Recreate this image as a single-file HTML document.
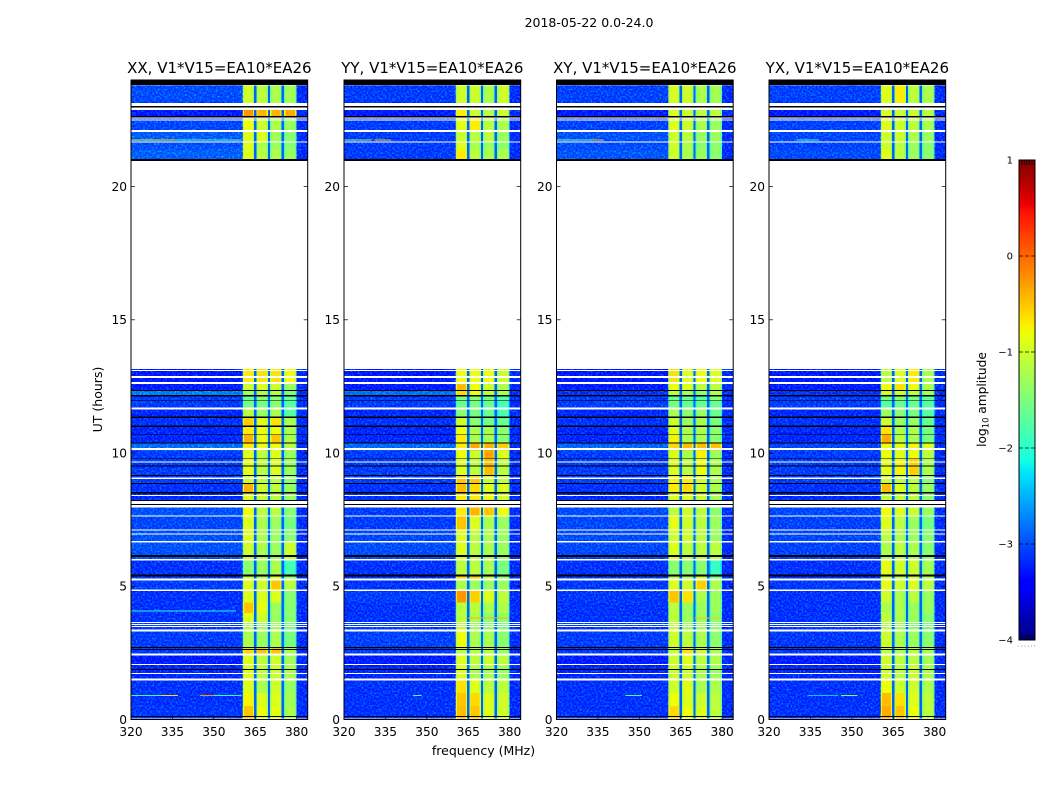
<!DOCTYPE html>
<html lang="en">
<head>
<meta charset="utf-8">
<title>2018-05-22 dynamic spectra</title>
<style>
html,body{margin:0;padding:0;background:#fff;}
svg{display:block;font-family:"DejaVu Sans","Liberation Sans",sans-serif;fill:#000;}
</style>
</head>
<body>
<svg id="chart" xmlns="http://www.w3.org/2000/svg" width="1050" height="800" viewBox="0 0 1050 800">
  <defs>
    <filter id="speckle" x="0" y="0" width="100%" height="100%" color-interpolation-filters="sRGB">
      <feTurbulence type="fractalNoise" baseFrequency="0.55" numOctaves="1" seed="7"/>
      <feColorMatrix type="matrix" values="0 0 0 0 0  2.2 0 0 0 -0.9  0 0 0 0 1  0 0 0 0 0.5"/>
    </filter>
  </defs>
  <text x="589" y="27" font-size="12.5" text-anchor="middle">2018-05-22 0.0-24.0</text>
  <g id="panels"></g>
  <text x="483.5" y="755" font-size="12.5" text-anchor="middle">frequency (MHz)</text>
  <text transform="translate(102,399.5) rotate(-90)" font-size="12.5" text-anchor="middle">UT (hours)</text>
  <g id="colorbar"></g>
  <text transform="translate(986,399.5) rotate(-90)" font-size="12.2" text-anchor="middle">log<tspan font-size="8.4" dy="2.5">10</tspan><tspan dy="-2.5"> amplitude</tspan></text>
</svg>
<script>
// ---- categories ----
const panelTitles = ["XX, V1*V15=EA10*EA26", "YY, V1*V15=EA10*EA26", "XY, V1*V15=EA10*EA26", "YX, V1*V15=EA10*EA26"];
const freqTicks = [320, 335, 350, 365, 380];
const hourTicks = [0, 5, 10, 15, 20];
const colorbarTicks = [1, 0, -1, -2, -3, -4];
const colorbarTickLabels = ["1", "0", "\u22121", "\u22122", "\u22123", "\u22124"];
// frequency cell boundaries (MHz): background, then for each band edge/core/edge with notches between, then outer
const freqEdges = [320, 360.4, 361, 364.1, 364.6, 365.4, 365.9, 369.1, 369.6, 370.4, 370.9, 374.1, 374.6, 375.4, 375.9, 379.4, 380, 384];
// time cell boundaries (UT hours)
const hourEdges = [0, 0.5, 1, 1.5, 2, 2.45, 2.7, 3.4, 3.65, 4, 4.4, 4.85, 5.25, 5.4, 6, 6.65, 7.1, 7.65, 8.25, 8.5, 8.85, 9.15, 9.8, 10.1, 10.4, 10.7, 11, 11.35, 11.65, 12, 12.15, 12.35, 12.65, 13.15, 21, 21.4, 21.7, 22.1, 22.6, 22.9, 23.15, 23.8];
const notchValue = -2.9;
const outerValue = -3.2;
const backgroundOffset = -0.05;
const bandOffset = 0.1;
const edgeDrop = -0.4;

// ---- series: log10 amplitude per time row: [background, band1, band2, band3, band4] ----
const xxValues = [
[-3.05,-0.6,-0.9,-0.95,-1.3],[-3.1,-0.85,-1.0,-1.0,-1.35],[-3.1,-1.0,-1.3,-1.1,-1.4],[-3.2,-1.0,-1.2,-1.1,-1.3],[-3.3,-1.0,-1.2,-1.1,-1.35],
[-3.0,-0.7,-0.6,-0.6,-1.3],[-3.0,-1.3,-1.4,-1.3,-1.6],[-3.0,-1.3,-1.4,-1.4,-1.6],[-3.1,-1.0,-1.1,-1.4,-1.5],[-3.1,-0.6,-0.95,-1.4,-1.5],
[-3.1,-1.0,-1.0,-1.0,-1.5],[-3.0,-1.0,-1.1,-0.6,-1.2],[-3.0,-1.1,-1.3,-1.0,-1.4],[-3.1,-1.5,-1.4,-1.3,-1.9],[-2.8,-1.1,-1.3,-1.4,-1.1],
[-2.8,-1.0,-1.3,-1.4,-1.5],[-2.9,-1.0,-1.3,-1.4,-1.6],[-2.8,-0.9,-1.2,-1.2,-1.5],[-3.2,-1.0,-1.1,-1.2,-1.4],[-3.1,-0.5,-1.1,-1.2,-1.4],
[-3.0,-1.1,-1.2,-1.2,-1.5],[-3.0,-0.95,-1.2,-1.0,-1.4],[-3.0,-1.0,-1.2,-1.0,-1.4],[-2.5,-0.8,-0.9,-0.9,-1.2],[-3.2,-0.5,-0.9,-0.6,-1.3],
[-3.2,-0.8,-0.9,-0.9,-1.3],[-3.1,-0.65,-0.95,-0.75,-1.3],[-3.2,-1.2,-1.4,-1.3,-1.8],[-3.0,-1.6,-1.6,-1.5,-1.8],[-3.0,-1.7,-1.5,-1.5,-1.7],
[-2.35,-1.4,-1.3,-1.3,-1.6],[-3.3,-1.1,-1.0,-1.1,-1.4],[-3.4,-0.8,-0.75,-0.75,-0.9],null,
[-2.65,-1.0,-1.2,-1.3,-1.4],[-2.8,-1.0,-1.3,-1.4,-1.5],[-2.7,-1.0,-1.0,-1.35,-1.5],[-2.9,-0.9,-1.1,-1.3,-1.4],[-3.3,-0.35,-0.5,-0.5,-0.45],[-3.2,-1.0,-1.1,-1.2,-1.2],[-2.85,-1.1,-1.2,-1.3,-1.35]];
const yyValues = [
[-3.1,-0.55,-0.6,-1.0,-1.1],[-3.1,-0.6,-0.7,-1.0,-1.1],[-3.1,-0.75,-1.0,-1.2,-1.2],[-3.2,-1.0,-1.3,-1.3,-1.4],[-3.3,-1.0,-1.2,-1.1,-1.2],
[-3.0,-1.2,-1.2,-1.2,-1.4],[-2.95,-0.9,-1.3,-1.3,-1.5],[-3.0,-1.2,-1.4,-1.5,-1.6],[-3.1,-1.2,-1.3,-1.5,-1.5],[-3.1,-1.2,-1.2,-1.3,-1.3],
[-3.0,-0.35,-0.65,-1.0,-1.2],[-3.1,-1.3,-1.4,-1.4,-1.4],[-3.1,-0.7,-0.65,-1.2,-1.5],[-3.1,-1.2,-1.2,-1.3,-1.6],[-2.85,-1.0,-1.2,-1.3,-1.4],
[-2.9,-1.0,-1.2,-1.3,-1.4],[-3.0,-0.6,-1.0,-1.3,-1.4],[-3.0,-0.8,-0.5,-0.6,-0.9],[-3.1,-0.8,-0.8,-0.9,-1.1],[-3.1,-0.55,-0.7,-1.0,-1.0],
[-3.0,-0.6,-0.6,-1.1,-1.2],[-3.0,-1.0,-1.2,-0.55,-1.2],[-3.0,-0.9,-1.1,-0.4,-1.0],[-2.55,-0.8,-0.45,-0.5,-0.65],[-3.2,-0.8,-1.3,-1.3,-1.5],
[-3.2,-0.9,-1.3,-1.3,-1.5],[-3.1,-1.1,-1.5,-1.6,-1.7],[-3.2,-1.5,-1.6,-1.7,-1.9],[-3.0,-1.7,-1.6,-1.7,-1.9],[-3.0,-1.6,-1.5,-1.6,-1.8],
[-2.5,-0.7,-0.9,-1.2,-1.3],[-3.3,-0.55,-0.9,-1.1,-1.3],[-3.4,-0.9,-0.9,-0.9,-1.1],null,
[-3.0,-0.8,-1.2,-1.3,-1.3],[-3.0,-1.0,-1.3,-1.4,-1.5],[-3.0,-1.1,-1.2,-1.2,-1.4],[-3.0,-0.95,-0.8,-1.2,-1.3],[-3.3,-0.8,-1.1,-1.2,-1.1],[-3.2,-1.0,-1.2,-1.2,-1.2],[-3.0,-1.1,-1.1,-1.3,-1.1]];
const xyValues = [
[-3.1,-0.7,-0.9,-1.0,-1.2],[-3.1,-0.9,-1.0,-1.1,-1.2],[-3.1,-1.1,-1.0,-1.3,-1.3],[-3.2,-1.1,-1.1,-1.3,-1.4],[-3.3,-1.1,-1.0,-1.2,-1.3],
[-3.0,-1.1,-0.75,-1.1,-1.3],[-3.0,-1.1,-1.2,-1.3,-1.5],[-3.0,-1.2,-1.4,-1.4,-1.5],[-3.1,-1.2,-1.4,-1.4,-1.5],[-3.1,-1.2,-1.4,-1.4,-1.4],
[-3.05,-0.6,-0.75,-1.3,-1.4],[-3.05,-1.0,-1.1,-0.65,-1.3],[-3.0,-1.2,-1.3,-1.1,-1.6],[-3.1,-1.5,-1.5,-1.5,-2.0],[-2.9,-1.0,-1.2,-1.2,-1.2],
[-2.85,-1.1,-1.1,-1.2,-1.4],[-2.9,-0.95,-1.1,-1.2,-1.4],[-2.85,-1.2,-1.1,-1.2,-1.5],[-3.2,-1.0,-1.0,-1.1,-1.3],[-3.1,-0.8,-0.7,-1.1,-1.3],
[-3.0,-0.85,-0.8,-1.1,-1.3],[-3.0,-1.0,-1.2,-0.9,-1.3],[-3.0,-1.0,-1.3,-0.85,-1.4],[-2.6,-0.7,-0.55,-0.55,-0.6],[-3.2,-0.85,-1.3,-1.3,-1.5],
[-3.2,-1.0,-1.3,-1.3,-1.5],[-3.1,-1.1,-1.4,-1.3,-1.6],[-3.2,-1.3,-1.5,-1.4,-1.7],[-3.0,-1.6,-1.7,-1.7,-1.7],[-3.0,-1.7,-1.7,-1.8,-1.5],
[-3.1,-1.2,-1.4,-1.5,-1.3],[-3.3,-0.9,-1.0,-1.2,-1.2],[-3.4,-0.75,-1.0,-0.9,-1.0],null,
[-2.75,-1.1,-1.3,-1.4,-1.5],[-2.85,-1.1,-1.3,-1.5,-1.5],[-2.8,-1.1,-1.2,-1.4,-1.4],[-2.95,-1.0,-1.1,-1.3,-1.4],[-3.3,-1.0,-1.1,-1.2,-1.2],[-3.2,-1.0,-1.1,-1.2,-1.3],[-2.95,-1.05,-1.1,-1.3,-1.35]];
const yxValues = [
[-3.1,-0.45,-0.6,-0.9,-1.2],[-3.1,-0.55,-0.75,-1.0,-1.2],[-3.1,-0.9,-1.1,-1.1,-1.3],[-3.2,-1.1,-1.2,-1.1,-1.3],[-3.3,-1.1,-1.2,-1.2,-1.35],
[-3.0,-1.2,-1.3,-1.2,-1.3],[-3.05,-1.1,-1.3,-1.4,-1.5],[-3.05,-1.3,-1.4,-1.5,-1.6],[-3.1,-1.2,-1.3,-1.4,-1.5],[-3.1,-1.3,-1.3,-1.4,-1.4],
[-3.1,-1.1,-1.3,-1.2,-1.4],[-3.05,-0.95,-1.1,-1.0,-1.2],[-3.1,-1.1,-1.2,-1.1,-1.3],[-3.1,-0.95,-1.1,-1.1,-1.35],[-2.95,-1.3,-1.2,-1.3,-1.5],
[-2.9,-1.2,-1.3,-1.4,-1.5],[-2.95,-1.0,-1.2,-1.4,-1.6],[-2.9,-0.9,-1.0,-1.1,-1.4],[-3.2,-1.2,-1.2,-1.2,-1.5],[-3.1,-0.55,-1.0,-1.2,-1.4],
[-3.0,-1.1,-1.2,-1.2,-1.5],[-3.0,-0.95,-0.85,-0.65,-1.3],[-3.0,-0.9,-1.0,-0.9,-1.2],[-2.9,-0.9,-0.95,-0.85,-1.0],[-3.2,-0.45,-1.2,-1.3,-1.6],
[-3.2,-0.75,-1.3,-1.3,-1.6],[-3.1,-1.1,-1.4,-1.4,-1.7],[-3.2,-1.4,-1.5,-1.6,-1.8],[-3.0,-1.8,-1.7,-1.7,-1.8],[-3.0,-1.6,-1.5,-1.6,-1.7],
[-3.1,-1.1,-1.1,-1.2,-1.4],[-3.3,-0.9,-0.75,-0.9,-1.3],[-3.4,-1.2,-1.0,-0.8,-1.3],null,
[-2.85,-1.0,-1.2,-1.4,-1.5],[-2.95,-1.1,-1.2,-1.4,-1.5],[-2.9,-1.1,-1.1,-1.3,-1.4],[-2.95,-1.0,-1.1,-1.2,-1.3],[-3.3,-1.0,-1.1,-1.1,-1.2],[-3.2,-1.05,-1.1,-1.2,-1.2],[-2.95,-1.0,-0.8,-1.2,-1.3]];
const panelValues = [xxValues, yyValues, xyValues, yxValues];

// flagged (blank) and zero (black) integrations, shared across polarisations: [from hour, to hour]
const flaggedSpans = [[0.03,0.06],[1.456,1.531],[1.715,1.752],[2.052,2.09],[2.409,2.484],[3.31,3.385],[3.463,3.5],[3.538,3.575],[3.613,3.65],[4.83,4.87],[5.21,5.285],[5.96,6.03],[6.65,6.69],[6.94,6.98],[7.09,7.13],[7.62,7.655],[7.955,8.05],[8.09,8.2],[8.39,8.43],[9.025,9.08],[9.65,9.69],[10.11,10.19],[11.625,11.7],[12.6,12.675],[12.82,12.89],[13.08,13.12],[21.66,21.69],[22.04,22.12],[22.48,22.52],[22.55,22.59],[22.87,22.97],[23.02,23.13]];
const zeroSpans = [[0.1,0.14],[1.865,1.902],[2.608,2.645],[2.683,2.72],[5.36,5.435],[6.1,6.17],[8.05,8.09],[8.2,8.24],[8.48,8.54],[8.83,8.87],[9.14,9.175],[9.5,9.53],[9.77,9.8],[10.35,10.39],[10.67,10.7],[10.975,11.03],[11.32,11.38],[11.97,12.0],[12.13,12.17],[12.33,12.37],[20.96,21.03],[22.6,22.64],[22.97,23.02],[23.81,24.0]];

// narrow-band interference: [panel, hour, from MHz, to MHz, log10 amplitude]
const rfiLines = [
[0,21.74,320,328,-1.0],[0,21.74,328,336,-0.6],[0,21.74,336,360,-1.7],[0,4.08,320,358,-2.0],[0,0.9,320,331,-1.9],[0,0.9,331,337,-0.6],[0,0.9,345,350,-0.2],[0,0.9,350,360,-2.0],
[1,21.74,320,330,-1.4],[1,21.74,331,337,-0.5],[1,0.9,345,348,-1.7],[1,3.8,365,380,-0.4],
[2,21.74,320,336,-1.6],[2,21.74,333,337,-0.5],[2,0.9,345,351,-1.9],[2,3.8,370,380,-0.5],
[3,21.74,330,338,-1.9],[3,0.9,346,352,-1.5],[3,0.9,334,345,-2.4]];

// ---- colour scale limits ----
const colorMin = -4;
const colorMax = 1;

// ---- axis functions ----
const panelLeft = [131, 344, 556.5, 769];
const panelWidth = 176.7;
const plotTop = 80;
const plotBottom = 719.5;
const freqMin = 320;
const freqMax = 384;
const hourMin = 0;
const hourMax = 24;
function xScale(p, f) { return panelLeft[p] + (f - freqMin) / (freqMax - freqMin) * panelWidth; }
function yScale(h) { return plotBottom - (h - hourMin) / (hourMax - hourMin) * (plotBottom - plotTop); }
const barTop = 160;
const barBottom = 640;
const barLeft = 1019;
const barRight = 1035;
function barY(v) { return barBottom - (v - colorMin) / (colorMax - colorMin) * (barBottom - barTop); }

function ramp(t, pts) {
  for (let i = 1; i < pts.length; i++) {
    if (t <= pts[i][0]) {
      const a = pts[i - 1], b = pts[i];
      return a[1] + (b[1] - a[1]) * (t - a[0]) / (b[0] - a[0]);
    }
  }
  return pts[pts.length - 1][1];
}
function jet(v) {
  const t = Math.min(1, Math.max(0, (v - colorMin) / (colorMax - colorMin)));
  const r = ramp(t, [[0,0],[0.35,0],[0.66,1],[0.89,1],[1,0.5]]);
  const g = ramp(t, [[0,0],[0.125,0],[0.375,1],[0.64,1],[0.91,0],[1,0]]);
  const b = ramp(t, [[0,0.5],[0.11,1],[0.34,1],[0.65,0],[1,0]]);
  return "rgb(" + Math.round(r * 255) + "," + Math.round(g * 255) + "," + Math.round(b * 255) + ")";
}

const NS = "http://www.w3.org/2000/svg";
function make(tag, parent, attrs, text) {
  const el = document.createElementNS(NS, tag);
  for (const k in attrs) el.setAttribute(k, attrs[k]);
  if (text !== undefined) el.textContent = text;
  parent.appendChild(el);
  return el;
}
function bandCells(v) {
  const core = v + bandOffset;
  const edge = core + edgeDrop;
  return [edge, core, edge];
}

const panelsRoot = document.getElementById("panels");
panelValues.forEach(function (rows, p) {
  const g = make("g", panelsRoot, {});
  
  

  const x0 = xScale(p, freqMin), x1 = xScale(p, freqMax);
  const bg = make("rect", g, {x: x0, y: plotTop, width: x1 - x0, height: plotBottom - plotTop, fill: "#fff"});
  
  

  // heatmap cells
  rows.forEach(function (row, r) {
    if (!row) return;
    const cols = [row[0] + backgroundOffset].concat(
      bandCells(row[1]), [notchValue], bandCells(row[2]), [notchValue],
      bandCells(row[3]), [notchValue], bandCells(row[4]), [outerValue]);
    cols.forEach(function (v, c) {
      const xa = xScale(p, freqEdges[c]), xb = xScale(p, freqEdges[c + 1]);
      const ya = yScale(hourEdges[r + 1]), yb = yScale(hourEdges[r]);
      const cell = make("rect", g, {x: xa, y: ya, width: xb - xa, height: yb - ya, fill: jet(v), "shape-rendering": "crispEdges"});
      
      
    });
  });

  // receiver noise texture on the out-of-band regions (decorative grain only)
  [[freqMin, freqEdges[1]], [freqEdges[16], freqMax]].forEach(function (span) {
    [[hourEdges[0], hourEdges[33]], [hourEdges[34], hourEdges[41]]].forEach(function (hs) {
      const gr = make("rect", g, {x: xScale(p, span[0]), y: yScale(hs[1]), width: xScale(p, span[1]) - xScale(p, span[0]), height: yScale(hs[0]) - yScale(hs[1]), filter: "url(#speckle)"});
      
      
    });
  });

  // narrow-band lines
  rfiLines.filter(function (l) { return l[0] === p; }).forEach(function (l) {
    const ln = make("rect", g, {x: xScale(p, l[2]), y: yScale(l[1]) - 0.5, width: xScale(p, l[3]) - xScale(p, l[2]), height: 1, fill: jet(l[4]), "shape-rendering": "crispEdges"});
    
    
  });

  // flagged and zero integrations
  flaggedSpans.forEach(function (s) {
    const f = make("rect", g, {x: x0, y: yScale(s[1]), width: x1 - x0, height: yScale(s[0]) - yScale(s[1]), fill: "#fff", "shape-rendering": "crispEdges"});
    
    
  });
  zeroSpans.forEach(function (s) {
    const z = make("rect", g, {x: x0, y: yScale(s[1]), width: x1 - x0, height: yScale(s[0]) - yScale(s[1]), fill: "#000", "shape-rendering": "crispEdges"});
    
    
  });

  // frame
  const frame = make("rect", g, {x: x0, y: plotTop, width: x1 - x0, height: plotBottom - plotTop, fill: "none", stroke: "#000", "stroke-width": 1});
  
  

  // title
  const title = make("text", g, {x: (x0 + x1) / 2, y: 73, "font-size": 15, "text-anchor": "middle"}, panelTitles[p]);
  
  

  // ticks and labels
  freqTicks.forEach(function (f) {
    const x = xScale(p, f);
    const t1 = make("line", g, {x1: x, x2: x, y1: plotBottom, y2: plotBottom - 4, stroke: "#000", "stroke-width": 0.7});
    
    
    const t2 = make("line", g, {x1: x, x2: x, y1: plotTop, y2: plotTop + 4, stroke: "#000", "stroke-width": 0.7});
    
    
    const lab = make("text", g, {x: x, y: 736, "font-size": 12.2, "text-anchor": "middle"}, String(f));
    
    
  });
  hourTicks.forEach(function (h) {
    const y = yScale(h);
    const t1 = make("line", g, {x1: x0, x2: x0 + 4, y1: y, y2: y, stroke: "#000", "stroke-width": 0.7});
    
    
    const t2 = make("line", g, {x1: x1, x2: x1 - 4, y1: y, y2: y, stroke: "#000", "stroke-width": 0.7});
    
    
    const lab = make("text", g, {x: x0 - 4, y: y + 4.3, "font-size": 12.2, "text-anchor": "end"}, String(h));
    
    
  });
});

// colorbar
const cb = document.getElementById("colorbar");
for (let i = 0; i < 240; i++) {
  const v = colorMin + (i + 0.5) / 240 * (colorMax - colorMin);
  const yb = barY(colorMin + i / 240 * (colorMax - colorMin));
  const ya = barY(colorMin + (i + 1) / 240 * (colorMax - colorMin));
  const s = make("rect", cb, {x: barLeft, y: ya, width: barRight - barLeft, height: yb - ya + 0.3, fill: jet(v)});
  
  
}
const cbFrame = make("rect", cb, {x: barLeft, y: barTop, width: barRight - barLeft, height: barBottom - barTop, fill: "none", stroke: "#000", "stroke-width": 1});


colorbarTicks.forEach(function (v, i) {
  const y = barY(v);
  [[barLeft, barLeft + 4], [barLeft + 6, barLeft + 10], [barRight - 4, barRight]].forEach(function (d) {
    const t = make("line", cb, {x1: d[0], x2: d[1], y1: y, y2: y, stroke: "#000", "stroke-width": 0.7});
    
    
  });
  const lab = make("text", cb, {x: 1013, y: y + 3.5, "font-size": 10, "text-anchor": "end"}, colorbarTickLabels[i]);
  
  
});
[1022, 1024.5, 1027, 1029.5, 1032].forEach(function (x) {
  const a = make("line", cb, {x1: x, x2: x, y1: barTop, y2: barTop + 5, stroke: "#000", "stroke-width": 0.7});
  
  
  const b = make("line", cb, {x1: x, x2: x, y1: barBottom, y2: barBottom - 5, stroke: "#000", "stroke-width": 0.7});
  
  
});
[1017.5, 1021, 1024.5, 1028, 1031, 1034].forEach(function (x) {
  const d = make("rect", cb, {x: x, y: 645.5, width: 1, height: 1, fill: "#999"});
  
  
});
</script>
</body>
</html>
